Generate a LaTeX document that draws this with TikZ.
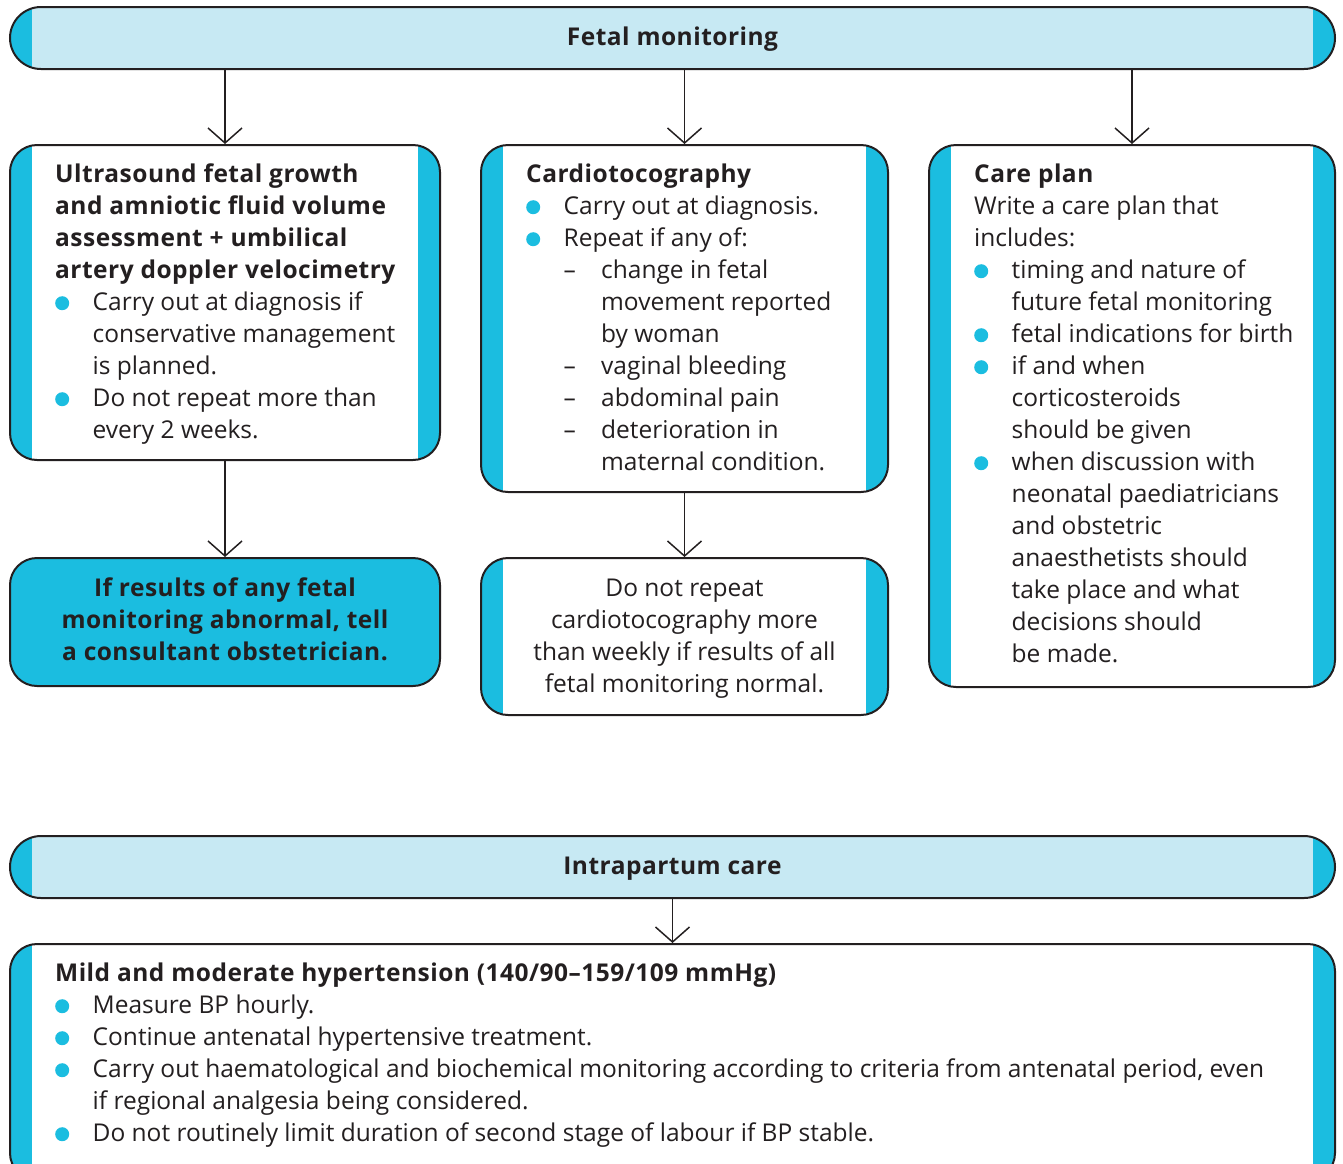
\documentclass[tikz,border=0pt]{standalone}
\usepackage{fontspec}
\setmainfont{Open Sans}[BoldFeatures={LetterSpace=2}]
\usetikzlibrary{arrows.meta}

\definecolor{bandc}{RGB}{27,189,224}
\definecolor{headc}{RGB}{199,233,243}
\definecolor{linec}{RGB}{35,31,32}
\definecolor{textc}{RGB}{35,31,32}

\newcommand\bodyfont{\fontsize{24.5}{32}\selectfont}
\newcommand\firstline{\rule{0pt}{24pt}}
\newcommand\ind{\hspace*{37.5pt}}
\newcommand\bul{\makebox[37.5pt][l]{\tikz[baseline=0pt]\fill[bandc] (7pt,7pt) circle (7pt);}}
\newcommand\dsh{\makebox[37.5pt][l]{–}}

\tikzset{
  banded/.style={rectangle, rounded corners=27pt, inner sep=0pt, draw=linec,
    line width=2pt, fill=white,
    path picture={
      \fill[bandc, sharp corners] (path picture bounding box.south west)
        rectangle ([xshift=22pt]path picture bounding box.north west);
      \fill[bandc, sharp corners] (path picture bounding box.south east)
        rectangle ([xshift=-22pt]path picture bounding box.north east);
    }},
  header/.style={banded, rounded corners=31pt, fill=headc, minimum width=1325pt,
    minimum height=62pt, font=\bodyfont\bfseries, text=textc,
    text height=18pt, text depth=4pt},
  solid box/.style={rectangle, rounded corners=27pt, inner sep=0pt, draw=linec,
    line width=2pt, fill=bandc},
  body/.style={inner sep=0pt, anchor=north west, align=left, font=\bodyfont, text=textc},
  centred/.style={inner sep=0pt, anchor=north, align=center, font=\bodyfont, text=textc},
  arr/.style={draw=linec, line width=1.5pt,
    -{Straight Barb[length=15pt,width=34pt,line width=1.5pt]}},
}

\begin{document}
\begin{tikzpicture}[x=1pt, y=-1pt]
\useasboundingbox (0,0) rectangle (1343,1163);

% Fetal monitoring section
\node[header] (h1) at (672.5,38) {Fetal monitoring};

\node[banded, minimum width=430pt, minimum height=315pt] (b1) at (225,302.5) {};
\node[banded, minimum width=407pt, minimum height=347pt] (b2) at (684.5,318.5) {};
\node[banded, minimum width=406pt, minimum height=542pt] (b3) at (1132,416) {};
\node[solid box, minimum width=430pt, minimum height=128pt] (b4) at (225,622) {};
\node[banded, minimum width=407pt, minimum height=157pt] (b5) at (684.5,636.5) {};

\node[body] (t1) at (55,158) {\firstline\textbf{Ultrasound fetal growth}\\
\textbf{and amniotic fluid volume}\\
\textbf{assessment + umbilical}\\
\textbf{artery doppler velocimetry}\\
\bul Carry out at diagnosis if\\
\ind conservative management\\
\ind is planned.\\
\bul Do not repeat more than\\
\ind every 2 weeks.};

\node[body] (t2) at (526,158) {\firstline\textbf{Cardiotocography}\\
\bul Carry out at diagnosis.\\
\bul Repeat if any of:\\
\ind\dsh change in fetal\\
\ind\ind movement reported\\
\ind\ind by woman\\
\ind\dsh vaginal bleeding\\
\ind\dsh abdominal pain\\
\ind\dsh deterioration in\\
\ind\ind maternal condition.};

\node[body] (t3) at (974,158) {\firstline\textbf{Care plan}\\
Write a care plan that\\
includes:\\
\bul timing and nature of\\
\ind future fetal monitoring\\
\bul fetal indications for birth\\
\bul if and when\\
\ind corticosteroids\\
\ind should be given\\
\bul when discussion with\\
\ind neonatal paediatricians\\
\ind and obstetric\\
\ind anaesthetists should\\
\ind take place and what\\
\ind decisions should\\
\ind be made.};

\node[centred, font=\bodyfont\bfseries] (t4) at (225,572) {\firstline If results of any fetal\\
monitoring abnormal, tell\\
a consultant obstetrician.};

\node[centred] (t5) at (684.5,572) {\firstline Do not repeat\\
cardiotocography more\\
than weekly if results of all\\
fetal monitoring normal.};

\draw[arr] (h1.south -| b1.north) -- (b1.north);
\draw[arr] (h1.south -| b2.north) -- (b2.north);
\draw[arr] (h1.south -| b3.north) -- (b3.north);
\draw[arr] (b1.south) -- (b4.north);
\draw[arr] (b2.south) -- (b5.north);

% Intrapartum care section
\node[header] (h2) at (672.5,867) {Intrapartum care};
\node[banded, minimum width=1325pt, minimum height=236pt] (b6) at (672.5,1062) {};

\node[body] (t6) at (55,957) {\firstline\textbf{Mild and moderate hypertension (140/90–159/109 mmHg)}\\
\bul Measure BP hourly.\\
\bul Continue antenatal hypertensive treatment.\\
\bul Carry out haematological and biochemical monitoring according to criteria from antenatal period, even\\
\ind if regional analgesia being considered.\\
\bul Do not routinely limit duration of second stage of labour if BP stable.};

\draw[arr] (h2.south) -- (b6.north);
\end{tikzpicture}
\end{document}
